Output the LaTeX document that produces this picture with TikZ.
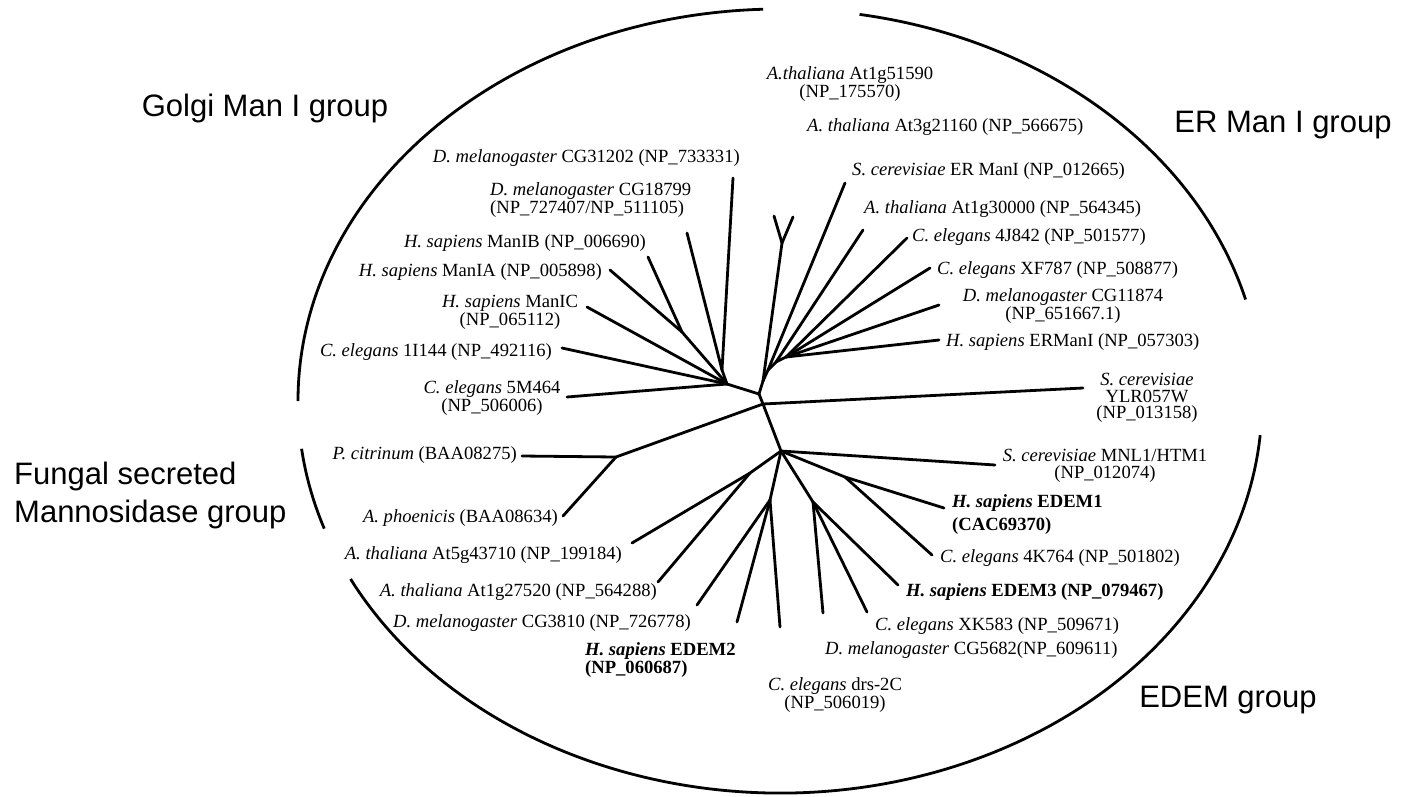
\documentclass[tikz,border=0pt]{standalone}
\usepackage{fontspec}
\setmainfont{Liberation Serif}
\newfontfamily\grpfont{Liberation Sans}
\begin{document}
\begin{tikzpicture}[x=1pt,y=-1pt,
  br/.style={line width=2.8pt, line cap=round, line join=round},
  arcl/.style={line width=2.8pt},
  lab/.style={inner sep=0pt, font=\fontsize{18.6}{16.8}\selectfont},
  grp/.style={inner sep=0pt, font=\grpfont\fontsize{31}{38}\selectfont},
]
\useasboundingbox (0,0) rectangle (1410,796);
% ellipse arcs
\coordinate (C) at (780,401);
\draw[arcl] (C) ++(180:482 and 392) arc[start angle=180, end angle=268, x radius=482, y radius=392];
\draw[arcl] (C) ++(279.5:482 and 392) arc[start angle=279.5, end angle=345, x radius=482, y radius=392];
\draw[arcl] (C) ++(153:482 and 392) arc[start angle=153, end angle=5, x radius=482, y radius=392];
\draw[arcl] (C) ++(161:482 and 392) arc[start angle=161, end angle=173, x radius=482, y radius=392];

% tree coordinates
\coordinate (A) at (759,394);
\coordinate (M) at (763,404);
\coordinate (G) at (727,384);
\coordinate (G2) at (722,370);
\coordinate (G3) at (682,332);
\coordinate (tCGa) at (733,178);
\coordinate (tCGb) at (687,233);
\coordinate (tManIB) at (648,257);
\coordinate (tManIA) at (610,270);
\coordinate (tManIC) at (587,307);
\coordinate (tIi) at (562,348);
\coordinate (tM) at (567,397);
\coordinate (E) at (763,381);
\coordinate (Y) at (782,243);
\coordinate (tY1) at (774,216);
\coordinate (tY2) at (793,217);
\coordinate (E1) at (768,370);
\coordinate (E2a) at (776,362);
\coordinate (E2) at (786,357);
\coordinate (tScER) at (845,183);
\coordinate (tAtc) at (863,230);
\coordinate (tJ) at (907,238);
\coordinate (tXF) at (930,268);
\coordinate (tCGc) at (939,305);
\coordinate (tER) at (939,340);
\coordinate (tYLR) at (1083,388);
\coordinate (F) at (616,457);
\coordinate (tPc) at (522,456);
\coordinate (tAp) at (563,516);
\coordinate (D) at (781,451);
\coordinate (tMNL) at (995,465);
\coordinate (N1) at (845,477);
\coordinate (tED1) at (944,508);
\coordinate (tK) at (932,555);
\coordinate (N3) at (813,502);
\coordinate (tED3) at (898,585);
\coordinate (tXK) at (867,612);
\coordinate (tCGd) at (823,613);
\coordinate (L1) at (750,473);
\coordinate (tAt5) at (632,543);
\coordinate (tAt1) at (658,582);
\coordinate (L2) at (770,500);
\coordinate (tCGe) at (697,605);
\coordinate (tED2) at (737,622);
\coordinate (tdrs) at (780,627);

% branches
\draw[br] (A) -- (M);
\draw[br] (A) -- (G);
\draw[br] (G) -- (G2);
\draw[br] (G2) -- (tCGa);
\draw[br] (G2) -- (tCGb);
\draw[br] (G) -- (G3);
\draw[br] (G3) -- (tManIB);
\draw[br] (G3) -- (tManIA);
\draw[br] (G) -- (tManIC);
\draw[br] (G) -- (tIi);
\draw[br] (G) -- (tM);
\draw[br] (A) -- (E);
\draw[br] (E) -- (Y);
\draw[br] (Y) -- (tY1);
\draw[br] (Y) -- (tY2);
\draw[br] (E) -- (E1);
\draw[br] (E1) -- (tScER);
\draw[br] (E1) -- (E2a);
\draw[br] (E2a) -- (tAtc);
\draw[br] (E2a) -- (E2);
\draw[br] (E2) -- (tJ);
\draw[br] (E2) -- (tXF);
\draw[br] (E2) -- (tCGc);
\draw[br] (E2) -- (tER);
\draw[br] (M) -- (tYLR);
\draw[br] (M) -- (F);
\draw[br] (F) -- (tPc);
\draw[br] (F) -- (tAp);
\draw[br] (M) -- (D);
\draw[br] (D) -- (tMNL);
\draw[br] (D) -- (N1);
\draw[br] (N1) -- (tED1);
\draw[br] (N1) -- (tK);
\draw[br] (D) -- (N3);
\draw[br] (N3) -- (tED3);
\draw[br] (N3) -- (tXK);
\draw[br] (N3) -- (tCGd);
\draw[br] (D) -- (L1);
\draw[br] (L1) -- (tAt5);
\draw[br] (L1) -- (tAt1);
\draw[br] (D) -- (L2);
\draw[br] (L2) -- (tCGe);
\draw[br] (L2) -- (tED2);
\draw[br] (L2) -- (tdrs);

% group labels
\node[grp] (gGolgi) at (265,108) {Golgi Man I group};
\node[grp] (gER) at (1283,125) {ER Man I group};
\node[grp, anchor=west, align=left] (gFun) at (14,495) {Fungal secreted\\Mannosidase group};
\node[grp] (gEDEM) at (1228,700) {EDEM group};

% leaf labels - Golgi
\node[lab, anchor=east] (lCGa) at (740,158) {\textit{D. melanogaster} CG31202 (NP\_733331)};
\node[lab, anchor=west, align=left] (lCGb) at (490,200) {\textit{D. melanogaster} CG18799\\(NP\_727407/NP\_511105)};
\node[lab, anchor=east] (lManIB) at (646,243) {\textit{H. sapiens} ManIB (NP\_006690)};
\node[lab, anchor=east] (lManIA) at (602,272) {\textit{H. sapiens} ManIA (NP\_005898)};
\node[lab, align=center] (lManIC) at (510,312) {\textit{H. sapiens} ManIC\\(NP\_065112)};
\node[lab, anchor=east] (lIi) at (552,352) {\textit{C. elegans} 1I144 (NP\_492116)};
\node[lab, align=center] (lM) at (492,398) {\textit{C. elegans} 5M464\\(NP\_506006)};
% fungal
\node[lab, anchor=east] (lPc) at (517,455) {\textit{P. citrinum} (BAA08275)};
\node[lab, anchor=east] (lAp) at (558,518) {\textit{A. phoenicis} (BAA08634)};
% EDEM left
\node[lab, anchor=east] (lAt5) at (622,555) {\textit{A. thaliana} At5g43710 (NP\_199184)};
\node[lab, anchor=east] (lAt1) at (657,592) {\textit{A. thaliana} At1g27520 (NP\_564288)};
\node[lab, anchor=east] (lCGe) at (691,623) {\textit{D. melanogaster} CG3810 (NP\_726778)};
\node[lab, anchor=west, align=left, font=\bfseries\fontsize{18.6}{16.8}\selectfont] (lED2) at (585,660) {\textit{H. sapiens} EDEM2\\(NP\_060687)};
\node[lab, align=center] (ldrs) at (835,695) {\textit{C. elegans} drs-2C\\(NP\_506019)};
% EDEM right
\node[lab, anchor=west] (lCGd) at (825,650) {\textit{D. melanogaster} CG5682(NP\_609611)};
\node[lab, anchor=west] (lXK) at (875,626) {\textit{C. elegans} XK583 (NP\_509671)};
\node[lab, anchor=west, font=\bfseries\fontsize{18.6}{16.8}\selectfont] (lED3) at (906,592) {\textit{H. sapiens} EDEM3 (NP\_079467)};
\node[lab, anchor=west] (lK) at (940,558) {\textit{C. elegans} 4K764 (NP\_501802)};
\node[lab, anchor=west, align=left, font=\bfseries\fontsize{18.6}{23}\selectfont] (lED1) at (952,515) {\textit{H. sapiens} EDEM1\\(CAC69370)};
\node[lab, align=center] (lMNL) at (1105,466) {\textit{S. cerevisiae} MNL1/HTM1\\(NP\_012074)};
% YLR
\node[lab, align=center] (lYLR) at (1147,398) {\textit{S. cerevisiae}\\YLR057W\\(NP\_013158)};
% ER
\node[lab, anchor=west] (lER) at (946,342) {\textit{H. sapiens} ERManI (NP\_057303)};
\node[lab, align=center] (lCGc) at (1063,306) {\textit{D. melanogaster} CG11874\\(NP\_651667.1)};
\node[lab, anchor=west] (lXF) at (937,270) {\textit{C. elegans} XF787 (NP\_508877)};
\node[lab, anchor=west] (lJ) at (912,237) {\textit{C. elegans} 4J842 (NP\_501577)};
\node[lab, anchor=west] (lAtc) at (864,209) {\textit{A. thaliana} At1g30000 (NP\_564345)};
\node[lab, anchor=west] (lScER) at (852,171) {\textit{S. cerevisiae} ER ManI (NP\_012665)};
\node[lab, anchor=west] (lAtb) at (807,127) {\textit{A. thaliana} At3g21160 (NP\_566675)};
\node[lab, align=center] (lAta) at (850,84) {\textit{A.thaliana} At1g51590\\(NP\_175570)};
\end{tikzpicture}
\end{document}
